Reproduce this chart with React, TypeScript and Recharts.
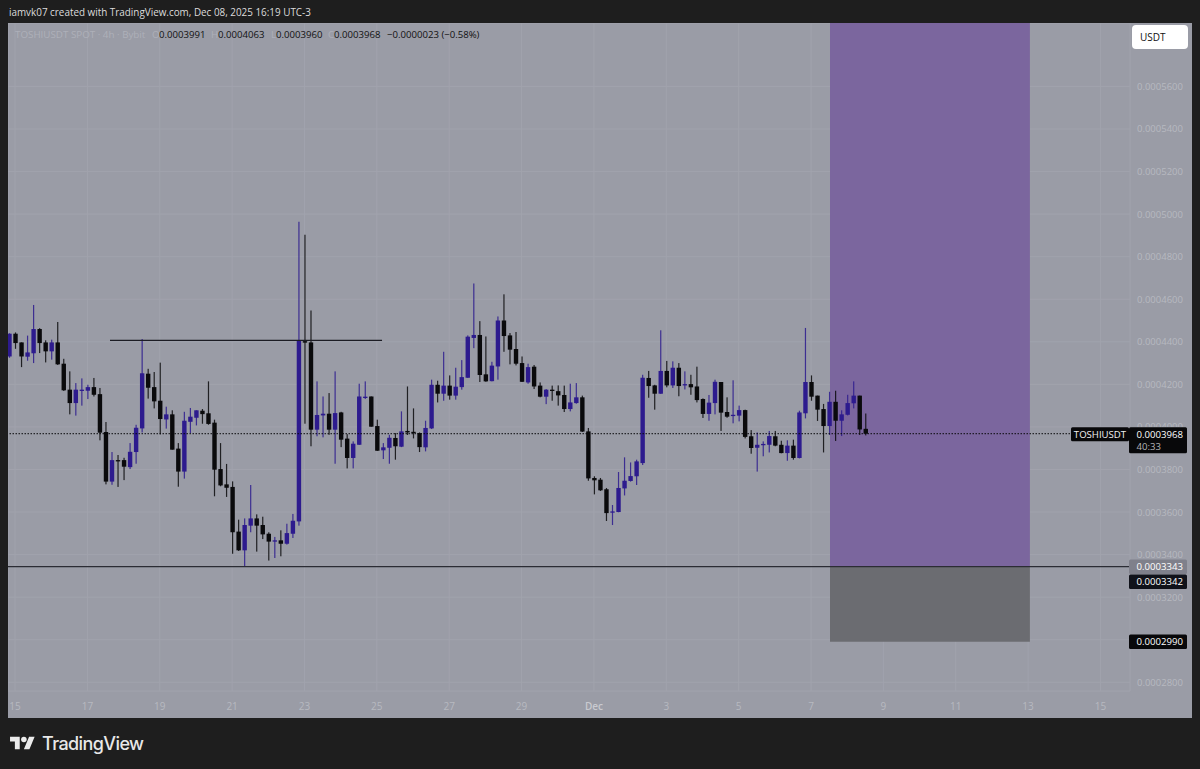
import React from "react";
import { ComposedChart, Bar, XAxis, YAxis, CartesianGrid, ReferenceArea, ReferenceLine } from "recharts";

// All prices are in ten-millionths of a USDT (4331 = 0.0004331)
const opens = [4331,4438,4397,4330,4346,4460,4397,4355,4397,4297,4175,4112,4172,4170,4187,4154,3976,3743,3844,3844,3811,3882,3993,4250,4187,4123,4035,4059,3898,3790,4024,4043,4076,4064,4020,3802,3730,3718,3508,3420,3536,3570,3539,3498,3464,3467,3451,3498,3556,4403,4397,3987,4054,4062,3987,4068,3945,3854,3916,4136,4143,4004,3890,3902,3948,3907,3981,3977,3971,3904,3993,4198,4156,4194,4147,4187,4231,4418,4432,4247,4215,4284,4500,4430,4366,4300,4209,4283,4194,4142,4175,4168,4150,4084,4112,4139,3979,3760,3752,3707,3599,3600,3711,3746,3768,3830,4230,4195,4156,4263,4195,4278,4195,4201,4190,4131,4061,4112,4211,4070,4053,4053,4079,3956,3902,3915,3916,3956,3916,3877,3912,3854,4064,4211,4147,4084,4004,4118,4029,4057,4111,4147,3991];
const highs = [4440,4444,4397,4429,4573,4464,4407,4410,4493,4320,4261,4206,4228,4198,4230,4183,4023,3882,3868,3855,3924,4010,4413,4273,4258,4302,4095,4078,3924,4071,4089,4078,4084,4214,4034,3924,3826,3744,3564,3570,3727,3589,3578,3505,3483,3514,3545,3591,4964,4903,4547,4214,4143,4159,4261,4071,3966,3932,4203,4214,4143,4034,3924,3963,3971,4073,4190,4087,3974,4029,4222,4217,4353,4242,4278,4314,4430,4674,4497,4425,4306,4519,4623,4441,4446,4331,4297,4291,4209,4178,4194,4195,4194,4203,4206,4147,3995,3768,3760,3713,3633,3788,3857,3833,3846,4245,4263,4198,4454,4310,4308,4300,4261,4245,4283,4134,4150,4222,4211,4139,4219,4100,4081,3985,3974,3932,3981,3981,3935,3937,3940,4076,4465,4242,4147,4108,4165,4170,4078,4151,4214,4147,4063];
const lows = [4325,4367,4281,4311,4300,4347,4303,4316,4291,4169,4059,4053,4100,4131,4143,3937,3730,3728,3718,3750,3802,3827,3974,4133,4087,3965,3992,3893,3719,3757,3971,4007,4015,4010,3674,3721,3671,3404,3417,3345,3505,3414,3473,3372,3384,3392,3447,3478,3536,4015,3909,3956,3951,3963,3827,3905,3805,3805,3915,4131,4001,3887,3849,3827,3846,3905,3962,3946,3882,3885,3990,4115,4123,4128,4128,4175,4230,4370,4211,4212,4214,4222,4353,4294,4289,4211,4203,4178,4139,4107,4123,4100,4070,4073,4109,3976,3747,3683,3699,3558,3539,3599,3678,3743,3727,3821,4137,4081,4155,4186,4183,4144,4176,4151,4115,4042,4029,4059,3981,4043,4017,4026,3946,3874,3790,3862,3880,3909,3876,3841,3846,3852,4040,4123,4028,3880,3962,3934,3957,4054,4087,3962,3960];
const closes = [4438,4394,4331,4350,4460,4394,4355,4397,4294,4172,4112,4175,4175,4187,4151,3973,3743,3844,3841,3813,3883,3996,4252,4184,4120,4037,4059,3893,3790,4029,4048,4078,4060,4014,3799,3725,3714,3505,3420,3539,3570,3536,3495,3461,3467,3451,3501,3559,4407,4396,3987,4056,4062,3987,4065,3940,3854,3921,4143,4142,4001,3888,3904,3949,3909,3979,3974,3973,3905,3995,4198,4156,4194,4147,4189,4234,4424,4432,4244,4214,4288,4500,4427,4363,4297,4212,4281,4190,4142,4175,4172,4148,4084,4115,4139,3978,3758,3749,3702,3595,3603,3713,3747,3769,3838,4231,4192,4156,4263,4195,4278,4192,4201,4186,4126,4061,4114,4212,4067,4048,4057,4079,3953,3901,3916,3920,3957,3912,3877,3912,3854,4068,4211,4142,4081,4004,4118,4029,4059,4112,4147,3988,3968];

const UNIT = 1e-7;
const priceTicks = [5600,5400,5200,5000,4800,4600,4400,4200,4000,3800,3600,3400,3200,3000,2800];
const dayTicks = [1,13,25,37,49,61,73,85,97,109,121,133,145,157,169,181];
const dayLabels = ["15","17","19","21","23","25","27","29","Dec","3","5","7","9","11","13","15"];

const lastPrice = 3968;
const entryLine = 3343;
const marketTag = 3342;
const stopPrice = 2990;
const domainTop = 5898;
const domainBottom = 2759;
const resistance = 4407;
const boxStart = 136.15;
const boxEnd = 169.3;
const segStart = 16.75;
const segEnd = 61.86;
const symbol = "TOSHIUSDT";
const countdown = "40:33";

const candles = opens.map((o, i) => ({
  idx: i,
  open: o * UNIT,
  high: highs[i] * UNIT,
  low: lows[i] * UNIT,
  close: closes[i] * UNIT,
  range: [lows[i] * UNIT, highs[i] * UNIT],
}));

const FONT = "'Open Sans', sans-serif";
const BG = "#9a9ca6";
const BLUE = "#2d1b8e";
const BLACK = "#0a0a0c";
const GRID = "#a1a3ad";
const TICK = "#b7b9c0";
const fmt = (v: number) => v.toFixed(7);

function Candle(props: any) {
  const { x, y, width, height, payload } = props;
  if (!payload || !height) return null;
  const cx = x + width / 2;
  const span = payload.high - payload.low;
  const top = Math.max(payload.open, payload.close);
  const bot = Math.min(payload.open, payload.close);
  const by = y + ((payload.high - top) / span) * height;
  const bh = Math.max(((top - bot) / span) * height, 1.3);
  const c = payload.close >= payload.open ? BLUE : BLACK;
  return (
    <g>
      <rect x={cx - 0.6} y={y} width={1.2} height={height} fill={c} opacity={0.85} />
      <rect x={cx - 2.2} y={by} width={4.4} height={bh} fill={c} />
    </g>
  );
}

function Tag(props: any) {
  const { viewBox, text, sub, bg = "#08080a", dy = 0, name } = props;
  if (!viewBox) return null;
  const right = viewBox.x + viewBox.width;
  const cy = viewBox.y + dy;
  const h = sub ? 26 : 14.5;
  const top = sub ? cy - 6.5 : cy - 7.25;
  return (
    <g style={{ fontFamily: FONT, fontSize: 9.6 }}>
      {name ? (
        <g>
          <rect x={right - 59} y={cy - 6.5} width={58} height={14} rx={1.5} fill="#08080a" />
          <text x={right - 30} y={cy + 4} fill="#f2f2f2" textAnchor="middle" fontWeight={500}>{name}</text>
        </g>
      ) : null}
      <rect x={right - 1} y={top} width={58} height={h} rx={1.5} fill={bg} />
      <text x={right + 6.5} y={sub ? cy + 4 : cy + 3.5} fill="#ffffff" fontWeight={500}>{text}</text>
      {sub ? <text x={right + 6.5} y={cy + 16.5} fill="#b5b5b8">{sub}</text> : null}
    </g>
  );
}

function DayTick(props: any) {
  const { x, y, payload } = props;
  const i = dayTicks.indexOf(payload.value);
  const label = dayLabels[i];
  const isMonth = label === "Dec";
  return (
    <text x={x} y={y + 19} textAnchor="middle" fontFamily={FONT} fontSize={10} fill={isMonth ? "#c9cad0" : TICK} fontWeight={isMonth ? 600 : 400}>
      {label}
    </text>
  );
}

// The price tags sit over these two axis labels in the reference.
function PriceTick(props: any) {
  const { x, y, payload } = props;
  const n = Math.round(payload.value / UNIT);
  if (n === 3000) return null;
  const text = (
    <text x={x} y={n === 4000 ? 8 + 3.5 : y + 3.5} fontFamily={FONT} fontSize={9.5} fill={TICK} textAnchor="start">
      {fmt(payload.value)}
    </text>
  );
  if (n === 4000) {
    return (
      <svg x={0} y={y - 8} width={1184} height={8} style={{ overflow: "hidden" }}>
        {text}
      </svg>
    );
  }
  return text;
}

const abs = (left: number, top: number, extra: React.CSSProperties = {}): React.CSSProperties => ({
  position: "absolute", left, top, whiteSpace: "nowrap", fontFamily: FONT, lineHeight: "14px", ...extra,
});

const legendFaint = { fontSize: 9.8, color: "#aeb0b9" };
const legendValue = { fontSize: 9.6, color: "#111" };

export default function App() {
  return (
    <div style={{ position: "fixed", left: 0, top: 0, width: 1200, height: 769, background: "#1e1e1e", overflow: "hidden" }}>
      <div style={abs(9, 5, { fontSize: 9.9, color: "#dcdcdc" })}>iamvk07 created with TradingView.com, Dec 08, 2025 16:19 UTC-3</div>
      <div style={{ position: "absolute", left: 8, top: 23, width: 1184, height: 695, background: BG, overflow: "hidden" }}>
        <ComposedChart width={1184} height={695} data={candles} margin={{ top: 0, right: 0, bottom: 0, left: 0 }} barSize={5}>
          <CartesianGrid stroke={GRID} strokeWidth={1} />
          <XAxis
            dataKey="idx"
            type="number"
            domain={[-0.166, 185.9]}
            allowDataOverflow
            ticks={dayTicks}
            interval={0}
            height={27}
            axisLine={false}
            tickLine={false}
            tickSize={0}
            tickMargin={0}
            tick={<DayTick />}
          />
          <YAxis
            orientation="right"
            type="number"
            domain={[domainBottom * UNIT, domainTop * UNIT]}
            allowDataOverflow
            ticks={priceTicks.map((t) => t * UNIT)}
            interval={0}
            width={62}
            axisLine={false}
            tickLine={false}
            tickSize={0}
            tickMargin={7}
            tick={<PriceTick />}
          />
          <ReferenceArea x1={boxStart} x2={boxEnd} y1={entryLine * UNIT} y2={domainTop * UNIT} fill="#7b669e" fillOpacity={1} stroke="none" ifOverflow="hidden" />
          <ReferenceArea x1={boxStart} x2={boxEnd} y1={stopPrice * UNIT} y2={entryLine * UNIT} fill="#6b6c71" fillOpacity={1} stroke="none" ifOverflow="hidden" />
          <ReferenceLine y={entryLine * UNIT} stroke="#2b2c34" strokeWidth={1.2} label={<Tag text={fmt(entryLine * UNIT)} bg="#7f808b" />} />
          <ReferenceLine y={marketTag * UNIT} stroke="none" label={<Tag text={fmt(marketTag * UNIT)} bg="#10121a" dy={14.8} />} />
          <ReferenceLine y={stopPrice * UNIT} stroke="none" label={<Tag text={fmt(stopPrice * UNIT)} />} />
          <ReferenceLine
            segment={[{ x: segStart, y: resistance * UNIT }, { x: segEnd, y: resistance * UNIT }]}
            stroke="#1c1c24"
            strokeWidth={1.2}
          />
          <ReferenceLine y={lastPrice * UNIT} stroke="#0a0a0c" strokeWidth={1} strokeDasharray="1.5 1.5" label={<Tag text={fmt(lastPrice * UNIT)} sub={countdown} name={symbol} />} />
          <Bar dataKey="range" isAnimationActive={false} shape={<Candle />} />
        </ComposedChart>
      </div>

      <div style={abs(15, 28, legendFaint)}>TOSHIUSDT SPOT · 4h · Bybit</div>
      <div style={abs(152, 28, legendFaint)}>O</div>
      <div style={abs(159, 28, legendValue)}>0.0003991</div>
      <div style={abs(211, 28, legendFaint)}>H</div>
      <div style={abs(218, 28, legendValue)}>0.0004063</div>
      <div style={abs(271, 28, legendFaint)}>L</div>
      <div style={abs(276, 28, legendValue)}>0.0003960</div>
      <div style={abs(328, 28, legendFaint)}>C</div>
      <div style={abs(334, 28, legendValue)}>0.0003968</div>
      <div style={abs(387, 28, legendValue)}>−0.0000023 (−0.58%)</div>

      <div style={{ ...abs(1132, 25, { fontSize: 10, color: "#111" }), width: 56, height: 24, background: "#fff", borderRadius: 4, lineHeight: "24px", paddingLeft: 8, boxSizing: "border-box" }}>USDT</div>

      <svg style={{ position: "absolute", left: 10, top: 734 }} width={25} height={19.4} viewBox="0 0 36 28">
        <path d="M14 22H7V11H0V4h14v18zM28 22h-8l7.5-18h8L28 22z" fill="#ececec" />
        <circle cx={20} cy={8} r={4} fill="#ececec" />
      </svg>
      <div style={{ ...abs(42, 733, { fontSize: 18, color: "#e8e8e8", fontWeight: 500, fontFamily: "Inter, sans-serif", letterSpacing: -0.6 }), lineHeight: "22px" }}>TradingView</div>
    </div>
  );
}
